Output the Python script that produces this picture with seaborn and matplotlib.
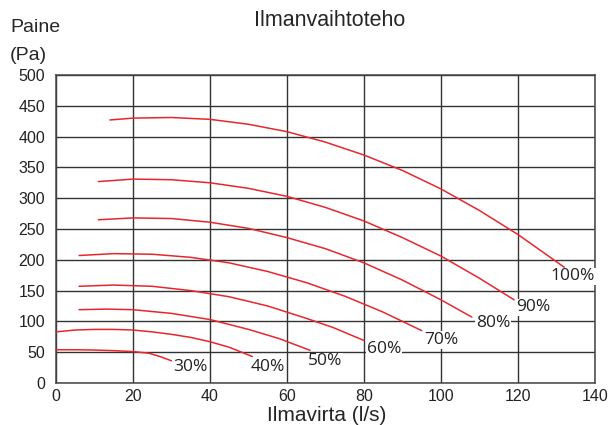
import pandas as pd
import matplotlib.pyplot as plt
import seaborn as sns

# Fan curves: airflow (l/s) vs pressure (Pa) for each fan speed setting
levels = ["30%", "40%", "50%", "60%", "70%", "80%", "90%", "100%"]

flow_30 = [0, 5, 10, 15, 20, 24, 27, 30]
pres_30 = [54, 54, 53.5, 52.5, 51, 48.5, 43, 36]

flow_40 = [0, 5, 10, 15, 20, 25, 30, 35, 40, 45, 51]
pres_40 = [83, 86, 87, 87, 86, 83, 79, 74, 67, 58, 43]

flow_50 = [6, 13, 20, 30, 40, 50, 58, 66]
pres_50 = [119, 120, 119, 113, 103, 87, 72, 53]

flow_60 = [6, 15, 25, 35, 45, 55, 65, 72, 80]
pres_60 = [157, 159, 157, 150, 140, 125, 105, 90, 69]

flow_70 = [6, 15, 25, 35, 45, 55, 65, 75, 85, 95]
pres_70 = [207, 210, 209, 204, 195, 181, 163, 141, 115, 85]

flow_80 = [11, 20, 30, 40, 50, 60, 70, 80, 90, 100, 108]
pres_80 = [265, 268, 267, 261, 251, 236, 218, 195, 167, 135, 107]

flow_90 = [11, 20, 30, 40, 50, 60, 70, 80, 90, 100, 110, 119]
pres_90 = [327, 331, 330, 325, 316, 303, 285, 263, 236, 206, 170, 135]

flow_100 = [14, 20, 30, 40, 50, 60, 70, 80, 90, 100, 110, 120, 132]
pres_100 = [427, 430, 431, 428, 420, 408, 391, 370, 345, 315, 280, 241, 188]

# label anchor positions (centre of text) in data units
label_x = [34.8, 55, 69.9, 85.2, 100.2, 113.6, 124, 134.2]
label_y = [26.5, 26, 35, 56, 70, 97, 123, 173]

flows = [flow_30, flow_40, flow_50, flow_60, flow_70, flow_80, flow_90, flow_100]
pressures = [pres_30, pres_40, pres_50, pres_60, pres_70, pres_80, pres_90, pres_100]

frames = []
for lvl, fx, py in zip(levels, flows, pressures):
    frames.append(pd.DataFrame({"flow": fx, "pressure": py, "level": lvl}))
df = pd.concat(frames, ignore_index=True)

sns.set_style("white")
plt.rcParams["font.family"] = ["Liberation Sans", "DejaVu Sans"]

red = "#e8262d"
fig = plt.figure(figsize=(6.1, 4.25), dpi=100)
ax = fig.add_axes([56 / 610, 42 / 425, 539 / 610, 308 / 425])

sns.lineplot(data=df, x="flow", y="pressure", hue="level", palette=[red] * len(levels),
             estimator=None, sort=False, legend=False, linewidth=1.1, ax=ax, zorder=3)

for lvl, lx, ly in zip(levels, label_x, label_y):
    ax.text(lx, ly, lvl, ha="center", va="center", fontsize=12.5, family="Open Sans",
            color="#222222", zorder=4,
            bbox=dict(facecolor="white", edgecolor="none", pad=0.5))

ax.set_xlim(0, 140)
ax.set_ylim(0, 500)
ax.set_xticks(range(0, 141, 20))
ax.set_yticks(range(0, 501, 50))
ax.grid(True, color="#333333", linewidth=1.0)
ax.set_axisbelow(True)
for s in ax.spines.values():
    s.set_color("#444444")
    s.set_linewidth(1.1)
ax.tick_params(axis="both", length=0, labelsize=11.5, colors="#222222")
ax.tick_params(axis="y", pad=8)
ax.tick_params(axis="x", pad=4)
ax.set_xlabel("")
ax.set_ylabel("")

fig.text(330 / 610, 1 - 21 / 425, "Ilmanvaihtoteho", ha="center", va="center", fontsize=15.5)
fig.text(10 / 610, 1 - 32 / 425, "Paine", ha="left", va="baseline", fontsize=14)
fig.text(10 / 610, 1 - 60 / 425, "(Pa)", ha="left", va="baseline", fontsize=14)
fig.text(327 / 610, 4.0 / 425, "Ilmavirta (l/s)", ha="center", va="baseline", fontsize=15)

fig.savefig("out.png", dpi=100)
